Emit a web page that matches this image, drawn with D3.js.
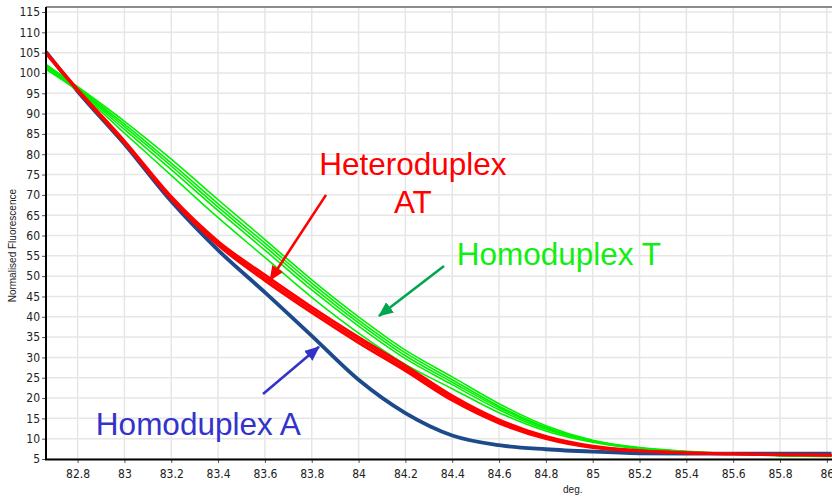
<!DOCTYPE html>
<html>
<head>
<meta charset="utf-8">
<script src="https://cdn.jsdelivr.net/npm/d3@7"></script>
<style>
	body { margin: 0; background: #fff; }
	.tick text { font-family: "Liberation Sans Narrow", "DejaVu Sans Condensed", sans-serif; font-size: 12px; fill: #222; }
	.grid line { stroke: #e6e6e6; stroke-width: 1.5px; }
	.curve { fill: none; }
</style>
</head>
<body>
<svg id="main_svg"></svg>
<script>
const WIDTH = 832;
const HEIGHT = 498;
const PLOT_LEFT = 46;
const PLOT_RIGHT = 832;
const PLOT_TOP = 7;
const PLOT_BOTTOM = 459;

// temperatures (deg.) at which each curve was read
const temps = [82.665, 82.8, 83.0, 83.2, 83.4, 83.6, 83.8, 84.0, 84.2, 84.4, 84.6, 84.8, 85.0, 85.2, 85.4, 85.6, 85.8, 86.02];

// Homoduplex A (blue)
const homoA = [105.2, 95.5, 82.5, 68.4, 56.4, 46.0, 35.3, 24.5, 16.3, 10.8, 8.4, 7.4, 6.8, 6.4, 6.3, 6.3, 6.3, 6.3];

// Heteroduplex AT (red replicates)
const hetero1 = [105.2, 96.0, 83.3, 69.6, 58.6, 50.3, 42.4, 35.0, 28.0, 20.6, 14.7, 10.6, 8.2, 7.1, 6.6, 6.3, 6.1, 6.0];
const hetero2 = [105.0, 95.8, 83.0, 69.3, 58.1, 49.6, 41.7, 34.3, 27.3, 20.0, 14.2, 10.3, 8.0, 7.0, 6.5, 6.3, 6.1, 6.0];
const hetero3 = [104.8, 95.6, 82.7, 68.9, 57.6, 48.9, 41.0, 33.6, 26.7, 19.4, 13.8, 10.0, 7.8, 6.9, 6.4, 6.2, 6.0, 5.9];

// Homoduplex T (green replicates)
const homoT1 = [102.1, 96.6, 88.1, 78.8, 68.8, 59.0, 49.1, 40.0, 31.8, 25.2, 18.6, 13.2, 9.6, 7.8, 6.9, 6.3, 5.9, 5.7];
const homoT2 = [101.9, 96.3, 87.4, 77.8, 67.8, 58.1, 48.3, 39.2, 31.1, 24.5, 18.0, 12.8, 9.5, 7.7, 6.8, 6.3, 5.9, 5.7];
const homoT3 = [101.6, 96.1, 86.8, 77.1, 67.0, 57.3, 47.5, 38.5, 30.4, 23.9, 17.6, 12.6, 9.4, 7.7, 6.8, 6.3, 5.9, 5.7];
const homoT4 = [101.3, 95.9, 86.1, 76.2, 66.1, 56.4, 46.6, 37.7, 29.7, 23.3, 17.1, 12.3, 9.3, 7.6, 6.8, 6.3, 5.9, 5.7];
const homoT5 = [100.9, 95.6, 85.2, 74.8, 64.4, 54.6, 44.8, 36.0, 28.3, 22.3, 16.4, 11.9, 9.1, 7.5, 6.7, 6.2, 5.8, 5.6];

const xTicks = [82.8, 83, 83.2, 83.4, 83.6, 83.8, 84, 84.2, 84.4, 84.6, 84.8, 85, 85.2, 85.4, 85.6, 85.8, 86];
const yTicks = [5, 10, 15, 20, 25, 30, 35, 40, 45, 50, 55, 60, 65, 70, 75, 80, 85, 90, 95, 100, 105, 110, 115];

// annotations: label text, anchor point in data units
const labels = [
	{text: 'Heteroduplex', x: 84.232, y: 74.9, color: '#ff0000', anchor: 'middle'},
	{text: 'AT', x: 84.232, y: 65.5, color: '#ff0000', anchor: 'middle'},
	{text: 'Homoduplex T', x: 84.419, y: 52.7, color: '#11ee11', anchor: 'start'},
	{text: 'Homoduplex A', x: 82.878, y: 10.9, color: '#3333cc', anchor: 'start'}
];
const arrows = [
	{from: [83.861, 70.0], to: [83.622, 49.0], color: '#ff0000', id: 'ah_red'},
	{from: [84.365, 52.5], to: [84.087, 40.2], color: '#00a650', id: 'ah_green'},
	{from: [83.592, 21.0], to: [83.831, 32.6], color: '#3333cc', id: 'ah_blue'}
];

const svg = d3.select('#main_svg').attr('width', WIDTH).attr('height', HEIGHT);

const x_scale = d3.scaleLinear().domain([82.665, 86.022]).range([PLOT_LEFT, PLOT_RIGHT]);
const y_scale = d3.scaleLinear().domain([5, 115]).range([PLOT_BOTTOM, 12]);

// grid
svg.append('g').attr('class', 'grid')
	.selectAll('line.v').data(xTicks).enter().append('line')
	.attr('x1', d => x_scale(d)).attr('x2', d => x_scale(d))
	.attr('y1', PLOT_TOP).attr('y2', PLOT_BOTTOM);
svg.append('g').attr('class', 'grid')
	.selectAll('line.h').data(yTicks).enter().append('line')
	.attr('x1', PLOT_LEFT).attr('x2', PLOT_RIGHT)
	.attr('y1', d => y_scale(d)).attr('y2', d => y_scale(d));

// top border
svg.append('line')
	.attr('x1', PLOT_LEFT).attr('x2', PLOT_RIGHT)
	.attr('y1', PLOT_TOP).attr('y2', PLOT_TOP)
	.attr('stroke', '#666').attr('stroke-width', 1.5);

const line = d3.line()
	.x(d => x_scale(d[0]))
	.y(d => y_scale(d[1]))
	.curve(d3.curveMonotoneX);

const plot_curve = (values, color, width) => {
	const dataset = temps.map((t, i) => [t, values[i]]);
	svg.append('path')
		.datum(dataset)
		.attr('class', 'curve')
		.attr('d', line)
		.attr('stroke', color)
		.attr('stroke-width', width);
};

plot_curve(homoA, '#1d4a8a', 3.8);
[homoT1, homoT2, homoT3, homoT4, homoT5].forEach(v => plot_curve(v, '#00f000', 1.6));
[hetero1, hetero2, hetero3].forEach(v => plot_curve(v, '#ff0000', 2.6));

// axes
svg.append('g')
	.attr('transform', `translate(0,${PLOT_BOTTOM})`)
	.call(d3.axisBottom(x_scale).tickValues(xTicks).tickSize(4).tickPadding(6).tickFormat(d => d))
	.call(g => g.select('.domain').remove())
	.call(g => g.selectAll('.tick line').attr('stroke', '#555'));

svg.append('g')
	.attr('transform', `translate(${PLOT_LEFT},0)`)
	.call(d3.axisLeft(y_scale).tickValues(yTicks).tickSize(4).tickPadding(2).tickFormat(d => d))
	.call(g => g.select('.domain').remove())
	.call(g => g.selectAll('.tick line').attr('stroke', '#555'));

svg.append('line')
	.attr('x1', PLOT_LEFT - 1).attr('x2', PLOT_RIGHT)
	.attr('y1', PLOT_BOTTOM + 0.5).attr('y2', PLOT_BOTTOM + 0.5)
	.attr('stroke', '#000').attr('stroke-width', 2);
svg.append('line')
	.attr('x1', PLOT_LEFT).attr('x2', PLOT_LEFT)
	.attr('y1', PLOT_TOP).attr('y2', PLOT_BOTTOM + 1)
	.attr('stroke', '#000').attr('stroke-width', 2);

// axis titles
svg.append('text')
	.attr('x', x_scale(84.915)).attr('y', 493)
	.attr('font-family', 'Liberation Sans, Arial, sans-serif')
	.attr('font-size', '10px')
	.attr('fill', '#222')
	.attr('text-anchor', 'middle')
	.text('deg.');

svg.append('text')
	.attr('font-family', 'Liberation Sans, Arial, sans-serif')
	.attr('font-size', '10px')
	.attr('fill', '#222')
	.attr('text-anchor', 'middle')
	.attr('transform', `translate(16, ${y_scale(57.5)}) rotate(-90)`)
	.text('Normalised Fluorescence');

// arrows
const defs = svg.append('defs');
arrows.forEach(a => {
	defs.append('marker')
		.attr('id', a.id)
		.attr('markerUnits', 'userSpaceOnUse')
		.attr('markerWidth', 16).attr('markerHeight', 16)
		.attr('viewBox', '0 -8 16 16')
		.attr('refX', 14).attr('refY', 0)
		.attr('orient', 'auto')
		.append('path')
		.attr('d', 'M0,-6.5L15,0L0,6.5Z')
		.attr('fill', a.color);
});

svg.selectAll('.arrow').data(arrows).enter().append('line')
	.attr('class', 'arrow')
	.attr('x1', d => x_scale(d.from[0])).attr('y1', d => y_scale(d.from[1]))
	.attr('x2', d => x_scale(d.to[0])).attr('y2', d => y_scale(d.to[1]))
	.attr('stroke', d => d.color)
	.attr('stroke-width', 2.6)
	.attr('marker-end', d => `url(#${d.id})`);

// labels
svg.selectAll('.label').data(labels).enter().append('text')
	.attr('class', 'label')
	.attr('x', d => x_scale(d.x)).attr('y', d => y_scale(d.y))
	.attr('font-family', 'Liberation Sans, Arial, sans-serif')
	.attr('font-size', '31.5px')
	.attr('fill', d => d.color)
	.attr('text-anchor', d => d.anchor)
	.text(d => d.text);
</script>
</body>
</html>
